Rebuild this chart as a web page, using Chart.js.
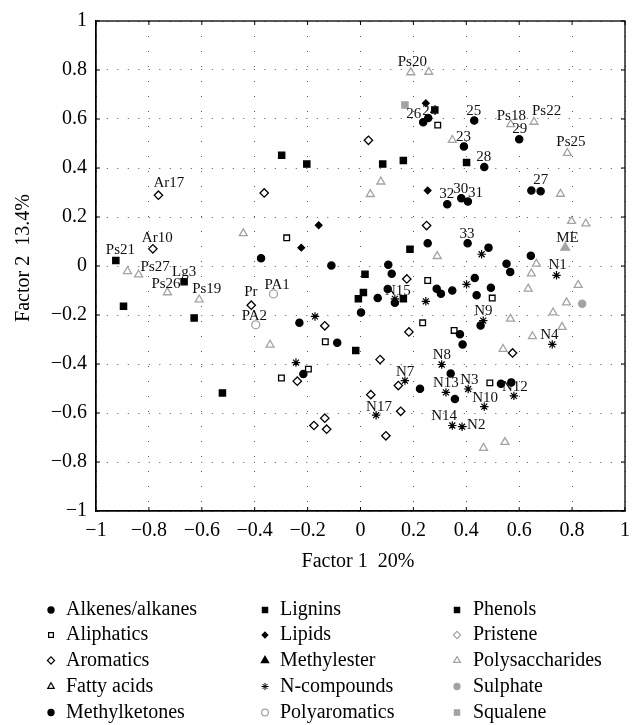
<!DOCTYPE html>
<html>
<head>
<meta charset="utf-8">
<script src="https://cdn.jsdelivr.net/npm/chart.js@4.4.1/dist/chart.umd.min.js"></script>
<style>
  html, body { margin: 0; padding: 0; background: #fff; }
  canvas { display: block; }
</style>
</head>
<body>
<canvas id="pcaChart" width="638" height="725"></canvas>
<script>
// factor loadings: [factor1, factor2, label]
const categories = [
  'Alkenes/alkanes', 'Aliphatics', 'Aromatics', 'Fatty acids', 'Methylketones',
  'Lignins', 'Lipids', 'Methylester', 'N-compounds', 'Polyaromatics',
  'Phenols', 'Pristene', 'Polysaccharides', 'Sulphate', 'Squalene'
];

const alkenesAlkanes = [
  [-0.376, 0.032], [-0.110, 0.002], [0.254, 0.093], [0.484, 0.075], [0.644, 0.042],
  [0.552, 0.009], [0.566, -0.024], [0.105, 0.005], [0.118, -0.032], [0.288, -0.093],
  [0.304, -0.113], [0.347, -0.100], [0.432, -0.049], [0.493, -0.089], [0.439, -0.119],
  [0.065, -0.131], [0.103, -0.094], [0.130, -0.150], [0.002, -0.190], [-0.231, -0.232],
  [-0.088, -0.313], [-0.216, -0.441], [0.454, -0.243], [0.376, -0.279], [0.386, -0.320],
  [0.225, -0.501], [0.341, -0.439], [0.357, -0.543], [0.531, -0.481], [0.570, -0.475]
];
const aliphatics = [
  [-0.279, 0.115], [0.292, 0.575], [0.254, -0.059], [0.498, -0.131], [-0.133, -0.309],
  [-0.197, -0.421], [-0.299, -0.457], [0.235, -0.232], [0.354, -0.263], [0.489, -0.477]
];
const aromatics = [
  [-0.764, 0.289, 'Ar17'], [-0.785, 0.070, 'Ar10'], [-0.364, 0.298], [0.030, 0.513],
  [0.250, 0.165], [0.175, -0.053], [-0.135, -0.244], [-0.239, -0.470], [-0.135, -0.621],
  [-0.176, -0.651], [-0.128, -0.666], [0.183, -0.269], [0.575, -0.355], [0.074, -0.382],
  [0.143, -0.488], [0.039, -0.525], [0.152, -0.593], [0.096, -0.693]
];
const fattyAcids = [];
const methylketones = [
  [0.237, 0.587, '26'], [0.256, 0.604, '24'], [0.430, 0.594, '25'], [0.600, 0.517, '29'],
  [0.391, 0.488, '23'], [0.468, 0.404, '28'], [0.646, 0.308, '27'], [0.681, 0.305],
  [0.328, 0.252, '32'], [0.381, 0.277, '30'], [0.406, 0.263, '31'], [0.405, 0.093, '33']
];
const lignins = [
  [-0.667, -0.064, 'Lg3'], [-0.298, 0.452], [-0.203, 0.416], [0.084, 0.416], [0.162, 0.431],
  [0.401, 0.422], [0.281, 0.637], [-0.629, -0.212], [-0.522, -0.518]
];
const lipids = [[0.247, 0.664], [-0.158, 0.166], [-0.224, 0.075], [0.254, 0.308]];
const methylester = [[0.774, 0.075, 'ME']];
const nCompounds = [
  [0.741, -0.038, 'N1'], [0.130, -0.134, 'N15'], [0.458, 0.048], [0.401, -0.075],
  [0.247, -0.144], [-0.172, -0.206], [-0.244, -0.394], [0.464, -0.223, 'N9'],
  [0.725, -0.320, 'N4'], [0.307, -0.402, 'N8'], [0.168, -0.468, 'N7'], [0.323, -0.516, 'N13'],
  [0.407, -0.502, 'N3'], [0.580, -0.530, 'N12'], [0.468, -0.574, 'N10'], [0.059, -0.609, 'N17'],
  [0.347, -0.651, 'N14'], [0.384, -0.656, 'N2']
];
const polyaromatics = [[-0.329, -0.114, 'PA1'], [-0.396, -0.240, 'PA2']];
const phenols = [
  [-0.925, 0.022, 'Ps21'], [0.187, 0.068], [0.017, -0.034], [0.011, -0.108],
  [-0.008, -0.134], [0.162, -0.134], [-0.896, -0.164], [-0.018, -0.345]
];
const pristene = [[-0.413, -0.160, 'Pr']];
const polysaccharides = [
  [0.190, 0.790, 'Ps20'], [0.258, 0.792], [0.568, 0.578, 'Ps18'], [0.656, 0.588, 'Ps22'],
  [0.347, 0.514], [0.782, 0.461, 'Ps25'], [0.077, 0.344], [0.037, 0.293], [0.756, 0.294],
  [0.798, 0.183], [0.852, 0.173], [0.290, 0.040], [0.665, 0.009], [0.646, -0.031],
  [0.634, -0.093], [0.823, -0.078], [0.779, -0.149], [0.728, -0.190], [0.567, -0.216],
  [0.762, -0.249], [0.650, -0.287], [0.539, -0.339], [0.546, -0.719], [0.465, -0.743],
  [-0.443, 0.133], [-0.342, -0.322], [-0.839, -0.035, 'Ps27'], [-0.881, -0.022],
  [-0.730, -0.108, 'Ps26'], [-0.610, -0.137, 'Ps19']
];
const sulphate = [[0.838, -0.154]];
const squalene = [[0.168, 0.657]];

const seriesData = [
  alkenesAlkanes, aliphatics, aromatics, fattyAcids, methylketones,
  lignins, lipids, methylester, nCompounds, polyaromatics,
  phenols, pristene, polysaccharides, sulphate, squalene
];

const tickValues = [-1, -0.8, -0.6, -0.4, -0.2, 0, 0.2, 0.4, 0.6, 0.8, 1];

// marker styles per category
const BLACK = '#000';
const GRAY = '#a3a3a3';
const styles = {
  'Alkenes/alkanes': { shape: 'circle', r: 3.6, fill: BLACK, line: BLACK },
  'Aliphatics': { shape: 'rect', r: 4, fill: '#fff', line: BLACK },
  'Aromatics': { shape: 'rectRot', r: 4.2, fill: '#fff', line: BLACK },
  'Fatty acids': { shape: 'triangle', r: 4.4, fill: '#fff', line: BLACK },
  'Methylketones': { shape: 'circle', r: 3.6, fill: BLACK, line: BLACK },
  'Lignins': { shape: 'rect', r: 4.4, fill: BLACK, line: BLACK },
  'Lipids': { shape: 'rectRot', r: 3.3, fill: BLACK, line: BLACK },
  'Methylester': { shape: 'triangle', r: 5, fill: GRAY, line: GRAY, legend: BLACK },
  'N-compounds': { shape: 'star', r: 4.2, fill: BLACK, line: BLACK },
  'Polyaromatics': { shape: 'circle', r: 4, fill: '#fff', line: GRAY },
  'Phenols': { shape: 'rect', r: 4.4, fill: BLACK, line: BLACK },
  'Pristene': { shape: 'rectRot', r: 4.2, fill: '#fff', line: BLACK, legend: GRAY },
  'Polysaccharides': { shape: 'triangle', r: 4.6, fill: '#fff', line: GRAY },
  'Sulphate': { shape: 'circle', r: 3.6, fill: GRAY, line: GRAY },
  'Squalene': { shape: 'rect', r: 4.4, fill: GRAY, line: GRAY }
};

// where each point label sits relative to its marker (text left, text middle)
const labelOffsets = {
  'Ar17': [-5, -12], 'Ar10': [-11, -11], 'Ps21': [-10, -11], 'Ps27': [2, -8],
  'Lg3': [-12, -10], 'Ps26': [-16, -8], 'Ps19': [-7, -11], 'Pr': [-7, -13],
  'PA1': [-9, -9], 'PA2': [-14, -9], 'Ps20': [-13, -10], '26': [-17, -8],
  '24': [-6, -7], '25': [-8, -9], 'Ps18': [-14, -8], 'Ps22': [-2, -11],
  '29': [-7, -10], '23': [-8, -9], 'Ps25': [-11, -11], '28': [-8, -10],
  '27': [2, -10], '32': [-8, -10], '30': [-8, -9], '31': [0, -9], '33': [-8, -9],
  'ME': [-9, -10], 'N1': [-8, -10], 'N15': [-10, -8], 'N9': [-9, -10],
  'N4': [-12, -9], 'N8': [-9, -9], 'N7': [-9, -9], 'N13': [-13, -9],
  'N3': [-8, -9], 'N12': [-12, -9], 'N10': [-12, -9], 'N17': [-10, -8],
  'N14': [-21, -9], 'N2': [5, -2]
};

const SERIF = '"Liberation Serif", "DejaVu Serif", serif';

const datasets = categories.map((name, i) => {
  const st = styles[name];
  return {
    label: name,
    data: seriesData[i].map(p => ({ x: p[0], y: p[1], name: p[2] })),
    pointStyle: st.shape,
    pointRadius: st.r,
    pointBackgroundColor: st.fill,
    pointBorderColor: st.line,
    pointBorderWidth: st.shape === 'star' ? 1.2 : 1.3,
    pointHoverRadius: st.r
  };
});

function fmtTick(v) {
  if (Math.abs(v) < 1e-9) return '0';
  return String(+v.toFixed(1)).replace('-', '\u2212');
}

// box, inward ticks and axis titles
const frame = {
  id: 'frame',
  afterDraw(chart) {
    const { ctx, chartArea: a, scales } = chart;
    ctx.save();
    ctx.strokeStyle = '#000';
    ctx.lineWidth = 1.3;
    ctx.strokeRect(a.left, a.top, a.right - a.left, a.bottom - a.top);
    ctx.lineWidth = 1;
    ctx.beginPath();
    tickValues.forEach(v => {
      const x = scales.x.getPixelForValue(v);
      ctx.moveTo(x, a.bottom); ctx.lineTo(x, a.bottom - 4);
      ctx.moveTo(x, a.top); ctx.lineTo(x, a.top + 4);
      const y = scales.y.getPixelForValue(v);
      ctx.moveTo(a.left, y); ctx.lineTo(a.left + 4, y);
      ctx.moveTo(a.right, y); ctx.lineTo(a.right - 4, y);
    });
    ctx.stroke();

    ctx.fillStyle = '#000';
    ctx.font = '20px ' + SERIF;
    ctx.textAlign = 'center';
    ctx.textBaseline = 'middle';
    ctx.fillText('Factor 1  20%', 358, 562);
    ctx.translate(24, 258);
    ctx.rotate(-Math.PI / 2);
    ctx.fillText('Factor 2  13.4%', 0, 0);
    ctx.restore();
  }
};

const pointLabels = {
  id: 'pointLabels',
  afterDatasetsDraw(chart) {
    const ctx = chart.ctx;
    ctx.save();
    ctx.font = '15px ' + SERIF;
    ctx.fillStyle = '#111';
    ctx.textAlign = 'left';
    ctx.textBaseline = 'middle';
    chart.data.datasets.forEach((ds, i) => {
      chart.getDatasetMeta(i).data.forEach((el, j) => {
        const name = ds.data[j].name;
        if (!name) return;
        const off = labelOffsets[name] || [-9, -10];
        ctx.fillText(name, el.x + off[0], el.y + off[1]);
      });
    });
    ctx.restore();
  }
};

// three column legend under the axes
const legendCols = [{ marker: 51, text: 66 }, { marker: 265, text: 280 }, { marker: 457, text: 473 }];
const legendRows = [610, 635, 660.5, 686.5, 712.5];
const boxLegend = {
  id: 'boxLegend',
  afterDraw(chart) {
    const ctx = chart.ctx;
    ctx.save();
    ctx.font = '20px ' + SERIF;
    ctx.textBaseline = 'middle';
    ctx.textAlign = 'left';
    categories.forEach((name, i) => {
      const col = legendCols[Math.floor(i / 5)];
      const y = legendRows[i % 5];
      const st = styles[name];
      const c = st.legend || st.line;
      ctx.fillStyle = st.fill === '#fff' ? '#fff' : c;
      ctx.strokeStyle = c;
      ctx.lineWidth = st.shape === 'star' ? 1 : 1.2;
      Chart.helpers.drawPoint(ctx, {
        pointStyle: st.shape, radius: st.r * 0.85, rotation: 0, borderWidth: 1.2
      }, col.marker, y);
      ctx.fillStyle = '#000';
      ctx.fillText(name, col.text, y);
    });
    ctx.restore();
  }
};

const axisFont = { family: SERIF, size: 20 };

new Chart(document.getElementById('pcaChart'), {
  type: 'scatter',
  data: { datasets },
  options: {
    responsive: false,
    animation: false,
    events: [],
    layout: { padding: { top: 7, right: 13, bottom: 0, left: 0 } },
    plugins: { legend: { display: false }, tooltip: { enabled: false } },
    scales: {
      x: {
        min: -1, max: 1,
        afterBuildTicks: s => { s.ticks = tickValues.map(v => ({ value: v })); },
        afterFit: s => { s.height = 214; },
        ticks: { font: axisFont, color: '#000', padding: 8, maxRotation: 0, callback: fmtTick },
        grid: { color: '#555', lineWidth: 1, drawTicks: false },
        border: { display: true, color: '#000', width: 1.3, dash: [1, 14] }
      },
      y: {
        min: -1, max: 1,
        afterBuildTicks: s => { s.ticks = tickValues.map(v => ({ value: v })); },
        afterFit: s => { s.width = 96; },
        ticks: { font: axisFont, color: '#000', padding: 9, callback: fmtTick },
        grid: { color: '#555', lineWidth: 1, drawTicks: false },
        border: { display: true, color: '#000', width: 1.3, dash: [1, 9.5] }
      }
    }
  },
  plugins: [pointLabels, frame, boxLegend]
});
</script>
</body>
</html>
